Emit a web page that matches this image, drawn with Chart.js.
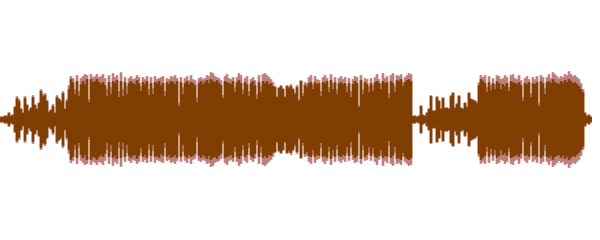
<!DOCTYPE html>
<html>
<head>
<meta charset="utf-8">
<script src="https://cdn.jsdelivr.net/npm/chart.js@4"></script>
<style>
  html, body { margin: 0; padding: 0; background: #fff; }
  #wrap { width: 600px; height: 240px; position: relative; }
</style>
</head>
<body>
<div id="wrap"><canvas id="wave"></canvas></div>
<script>
// waveform envelope, one value per 2px column (amplitude in px above/below centre)
const rms = [
  2,2,3,3,6,3,4,12,21,18,10,6,21,14,8,11,22,14,10,16,28,23,24,18,7,9,13,6,22,20,18,26,10,18,30,
  40,37,25,38,23,35,38,35,40,17,40,37,38,40,37,
  35,37,34,23,37,25,38,36,39,22, 38,23,37,25,36,38,36,35,39,36,
  28,37,35,38,24,36,25,37,36,38, 34,36,23,37,35,38,37,35,38,13,
  37,25,36,38,35,37,36,34,17,36,
  38,35,37,39,36,40,38,37,39,36, 34,21,38,37,36,35,38,27,37,39,
  36,25,37,35,23,36,38,34,20,37, 27,38,36,38,35,36,33,32,22,31,
  33,30,22,33,31,33,30,25,32,18,
  38,23,34,32,36,37,30,37,35,36, 23,37,36,38,27,39,30,37,25,36,
  37,35,36,27,36,22,35,38,36,12, 39,25,37,35,27,36,28,37,38,36,
  30,38,36,37,21,38,36,27,39,38, 40,33,37,39,40,38,
  3,3,2,3,13,4,3,6,10,23, 8,8,22,18,10,21,11,11,10,23,
  26,11,15,23,11,10,16,12,26,20, 19,18,16,34,
  40,38,36,27,37,29,36,30,38,36, 30,35,33,36,28,38,37,36,35,37,
  34,18,36,35,37,22,36,35,37,13, 38,36,25,37,38,36,40,37,36,35,
  38,36,39,37,40,38,36,37,35,33, 30,27,
  6,3,4,2
];

const peak = [
  3,3,4,4,7,4,5,13,23,20,11,7,23,15,9,12,24,15,11,17,30,25,26,19,8,10,15,7,24,21,19,28,11,20,34,
  43,41,30,44,28,41,43,45,44,20,45,42,43,45,42,
  43,45,41,30,44,32,46,42,44,28, 47,30,42,33,41,43,40,41,44,42,
  33,42,40,43,30,42,31,43,40,41, 42,43,28,41,40,43,42,44,41,16,
  42,32,41,43,39,44,40,39,22,41,
  42,40,41,44,43,47,46,43,42,41, 39,24,43,45,41,40,42,32,42,46,
  44,30,41,43,28,40,42,39,25,44, 33,45,46,44,42,40,37,33,23,32,
  34,31,23,34,33,35,31,27,34,20,
  39,26,37,36,42,44,35,43,40,39, 28,42,44,41,32,45,36,42,30,41,
  43,40,42,33,41,28,40,43,42,14, 44,30,41,40,33,41,34,42,45,40,
  36,46,41,43,26,44,46,33,44,43, 45,37,42,44,46,45,
  4,4,3,4,14,5,4,7,11,24, 9,9,23,19,11,22,12,12,11,24,
  27,12,16,24,12,11,17,13,27,21, 20,19,17,37,
  44,42,44,32,43,34,41,35,44,43, 40,41,44,42,32,44,45,41,40,44,
  39,22,41,43,40,26,42,40,43,16, 44,42,31,42,45,41,47,45,43,41,
  43,42,45,44,48,45,43,44,42,40, 36,30,
  7,4,5,3
];

const labels = rms.map((_, i) => i);

new Chart(document.getElementById('wave'), {
  type: 'bar',
  data: {
    labels: labels,
    datasets: [
      {
        label: 'rms',
        data: rms.map(v => [-v, v]),
        backgroundColor: '#7f3f00',
        grouped: false,
        order: 0,
        barPercentage: 1,
        categoryPercentage: 1,
        borderWidth: 0
      },
      {
        label: 'peak',
        data: peak.map(v => [-v, v]),
        backgroundColor: '#bf7f7f',
        grouped: false,
        order: 1,
        barPercentage: 1,
        categoryPercentage: 1,
        borderWidth: 0
      }
    ]
  },
  options: {
    responsive: true,
    maintainAspectRatio: false,
    animation: false,
    layout: { padding: { left: 0, right: 8, top: 0, bottom: 0 } },
    plugins: {
      legend: { display: false },
      tooltip: { enabled: false }
    },
    scales: {
      x: { display: false },
      y: { display: false, min: -120.5, max: 119.5 }
    }
  }
});
</script>
</body>
</html>
